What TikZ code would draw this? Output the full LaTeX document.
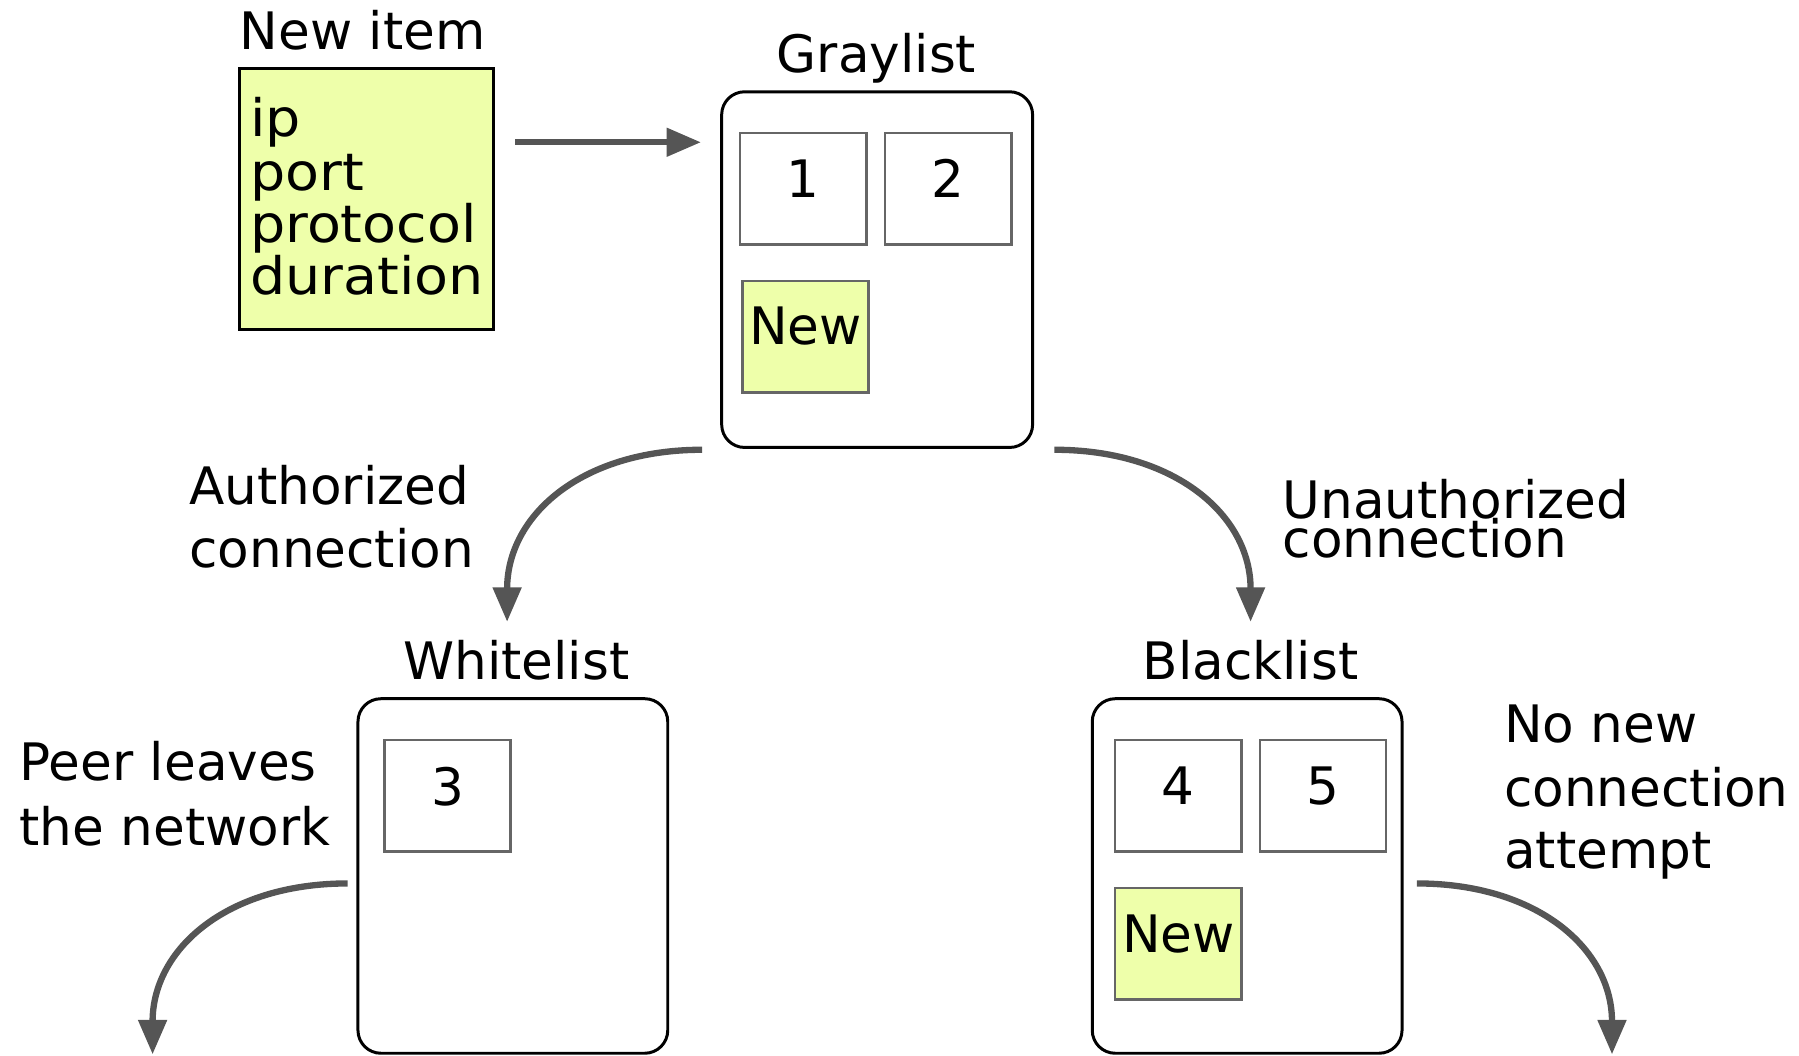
\documentclass[tikz,border=0pt]{standalone}
\usepackage{fontspec}
\usepackage{graphicx}
\setmainfont{DejaVu Sans}
\usetikzlibrary{arrows.meta,calc}
\definecolor{itemfill}{HTML}{EEFFAA}
\definecolor{flowgray}{HTML}{555555}
\definecolor{slotgray}{HTML}{666666}
% field names in the record box are set slightly wider
\newcommand{\widefield}[1]{\scalebox{1.075}[1]{#1}}

\begin{document}
\begin{tikzpicture}[x=1pt,y=-1pt,
  every node/.style={inner sep=0pt, outer sep=0pt, font=\fontsize{45}{56}\selectfont},
  listbox/.style={draw=black, line width=2.6pt, rounded corners=20pt,
                  minimum width=270pt, minimum height=309pt},
  slot/.style={draw=slotgray, line width=2.2pt, minimum width=110pt, minimum height=97pt},
  newslot/.style={slot, fill=itemfill},
  txt/.style={anchor=base west},
  title/.style={anchor=base},
  flow/.style={draw=flowgray, line width=5.5pt, -{Triangle[length=30pt,width=24pt]}}
]
\useasboundingbox (0,0) rectangle (1568,920);

% ---- new item record ----
\node[title] (recT) at (316,43) {New item};
\node[draw=black, line width=2.6pt, fill=itemfill,
      minimum width=221pt, minimum height=227pt] (rec) at (319.5,173.5) {};
\node[txt] (f1) at (218,119) {\widefield{ip}};
\node[txt] (f2) at (218,166) {\widefield{port}};
\node[txt] (f3) at (218,211) {\widefield{protocol}};
\node[txt] (f4) at (218,257) {\widefield{duration}};

% ---- graylist ----
\node[title] (grayT) at (764,63) {Graylist};
\node[listbox, minimum width=271pt, minimum height=310pt] (gray) at (764.5,235) {};
\node[slot] (g1) at (700,164.5) {};
\node[slot] (g2) at (826.5,164.5) {};
\node[newslot] (g3) at (702,293.5) {};
\node[title] (g1t) at ($(g1.center)+(0,7.5)$) {1};
\node[title] (g2t) at ($(g2.center)+(0,7.5)$) {2};
\node[title] (g3t) at ($(g3.center)+(0,6.5)$) {New};

% ---- whitelist ----
\node[title] (whiteT) at (450,592) {Whitelist};
\node[listbox] (white) at (447,763.5) {};
\node[slot] (w1) at (390,693.5) {};
\node[title] (w1t) at ($(w1.center)+(0,8.5)$) {3};

% ---- blacklist ----
\node[title] (blackT) at (1090,592) {Blacklist};
\node[listbox] (black) at (1087,763.5) {};
\node[slot] (b1) at (1027,693.5) {};
\node[slot] (b2) at (1153,693.5) {};
\node[newslot] (b3) at (1027,822.5) {};
\node[title] (b1t) at ($(b1.center)+(0,7.5)$) {4};
\node[title] (b2t) at ($(b2.center)+(0,7.5)$) {5};
\node[title] (b3t) at ($(b3.center)+(0,7.5)$) {New};

% ---- transition labels ----
\node[txt] (au1) at (165,440) {Authorized};
\node[txt] (au2) at (165,495) {connection};
\node[txt] (un1) at (1118,452) {Unauthorized};
\node[txt] (un2) at (1118,486) {connection};
\node[txt] (pl1) at (17,680) {Peer leaves};
\node[txt] (pl2) at (17,737) {the network};
\node[txt] (nn1) at (1311,647) {No new};
\node[txt] (nn2) at (1311,703) {connection};
\node[txt] (nn3) at (1311,757) {attempt};

% ---- connector end points ----
\coordinate (inA) at (449,124);
\coordinate (inB) at (611,124);
\coordinate (gOutL) at (612,392);
\coordinate (wIn) at (442,542);
\coordinate (gOutR) at (919,392);
\coordinate (bIn) at (1090,542);
\coordinate (wOut) at (303,770);
\coordinate (wGone) at (133,919);
\coordinate (bOut) at (1235,770);
\coordinate (bGone) at (1405,919);

% ---- connectors ----
\draw[flow] (inA) -- (inB);
\draw[flow] (gOutL) .. controls ($(gOutL)+(-105,0)$) and ($(wIn)+(0,-93)$) .. (wIn);
\draw[flow] (gOutR) .. controls ($(gOutR)+(105,0)$) and ($(bIn)+(0,-93)$) .. (bIn);
\draw[flow] (wOut) .. controls ($(wOut)+(-105,0)$) and ($(wGone)+(0,-92)$) .. (wGone);
\draw[flow] (bOut) .. controls ($(bOut)+(105,0)$) and ($(bGone)+(0,-92)$) .. (bGone);
\end{tikzpicture}
\end{document}
